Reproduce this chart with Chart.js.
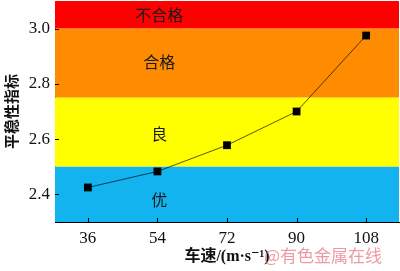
<!DOCTYPE html>
<html>
<head>
<meta charset="utf-8">
<script src="https://cdn.jsdelivr.net/npm/chart.js@4/dist/chart.umd.min.js"></script>
<style>
  html, body { margin: 0; padding: 0; background: #fff; }
  #wrap { width: 400px; height: 271px; }
</style>
</head>
<body>
<div id="wrap"><canvas id="c"></canvas></div>
<script>
// speed categories and ride index values
const speeds = [36, 54, 72, 90, 108];
const rideIndex = [2.425, 2.483, 2.578, 2.70, 2.975];
const yTicks = [2.4, 2.6, 2.8, 3.0];

// grade bands: lower / upper bound, fill, label, label y
const bandLow = [3.0, 2.75, 2.5, 2.3];
const bandHigh = [3.1, 3.0, 2.75, 2.5];
const bandColors = ['#ff0000', '#ff8c00', '#ffff00', '#12b3ef'];
const bandNames = ['不合格', '合格', '良', '优'];
const bandLabelY = [3.05, 2.88, 2.62, 2.38];
const bandLabelX = 54.5;

const SERIF = '"Times New Roman", "Liberation Serif", "DejaVu Serif", "Noto Sans CJK SC", serif';
const CJK = '"Noto Sans CJK SC", sans-serif';

const bandsPlugin = {
	id: 'bands',
	beforeDatasetsDraw(chart) {
		const { ctx, chartArea: a, scales: { x, y } } = chart;
		ctx.save();
		bandLow.forEach((lo, i) => {
			const top = y.getPixelForValue(bandHigh[i]);
			const bot = y.getPixelForValue(lo);
			ctx.fillStyle = bandColors[i];
			ctx.fillRect(a.left, top, a.right - a.left, bot - top);
		});
		ctx.fillStyle = '#1a1a1a';
		ctx.font = '16px ' + CJK;
		ctx.textAlign = 'center';
		ctx.textBaseline = 'middle';
		bandNames.forEach((n, i) => {
			ctx.fillText(n, x.getPixelForValue(bandLabelX), y.getPixelForValue(bandLabelY[i]));
		});
		// inward ticks
		ctx.strokeStyle = '#000';
		ctx.lineWidth = 1;
		ctx.beginPath();
		yTicks.forEach(v => {
			const py = Math.round(y.getPixelForValue(v)) + 0.5;
			ctx.moveTo(a.left, py); ctx.lineTo(a.left + 4, py);
		});
		speeds.forEach(v => {
			const px = Math.round(x.getPixelForValue(v)) + 0.5;
			ctx.moveTo(px, a.bottom); ctx.lineTo(px, a.bottom - 4);
		});
		ctx.stroke();
		ctx.restore();
	},
	afterDraw(chart) {
		const { ctx } = chart;
		ctx.save();
		ctx.fillStyle = 'rgba(232,110,120,0.7)';
		ctx.font = '17px ' + CJK;
		ctx.textAlign = 'left';
		ctx.textBaseline = 'middle';
		ctx.fillText('@有色金属在线', 264, 256);
		ctx.restore();
	},
};

new Chart(document.getElementById('c'), {
	type: 'line',
	data: {
		datasets: [{
			data: speeds.map((s, i) => ({ x: s, y: rideIndex[i] })),
			borderColor: 'rgba(0,0,0,0.65)',
			borderWidth: 1,
			pointStyle: 'rect',
			pointRadius: 5.5,
			pointBackgroundColor: '#000',
			pointBorderColor: '#000',
			pointBorderWidth: 0,
			tension: 0,
			fill: false,
		}],
	},
	options: {
		responsive: true,
		maintainAspectRatio: false,
		animation: false,
		layout: { padding: { top: 1, right: 1, left: 0, bottom: 0 }, autoPadding: false },
		plugins: { legend: { display: false }, tooltip: { enabled: false } },
		scales: {
			x: {
				type: 'linear',
				min: 27.5, max: 116.5,
				afterBuildTicks(s) { s.ticks = speeds.map(v => ({ value: v })); },
				afterFit(s) { s.height = 49; s.paddingLeft = 0; s.paddingRight = 0; },
				ticks: { color: '#111', font: { family: SERIF, size: 17 }, padding: 6, autoSkip: false, maxRotation: 0 },
				grid: { display: false, drawTicks: false },
				border: { color: '#000', width: 1 },
				title: {
					display: true, text: '车速/(m·s⁻¹)', color: '#111',
					font: { family: SERIF, size: 16, weight: 'bold' },
					padding: { top: 0, bottom: 5 },
				},
			},
			y: {
				min: 2.3, max: 3.1,
				afterBuildTicks(s) { s.ticks = yTicks.map(v => ({ value: v })); },
				afterFit(s) { s.width = 55; s.paddingTop = 0; s.paddingBottom = 0; },
				ticks: { color: '#111', font: { family: SERIF, size: 17 }, padding: 5, callback: v => v.toFixed(1) },
				grid: { display: false, drawTicks: false },
				border: { color: '#000', width: 1 },
				title: {
					display: true, text: '平稳性指标', color: '#111',
					font: { family: CJK, size: 15, weight: 'bold' },
					padding: { top: 2, bottom: 0 },
				},
			},
		},
	},
	plugins: [bandsPlugin],
});
</script>
</body>
</html>
